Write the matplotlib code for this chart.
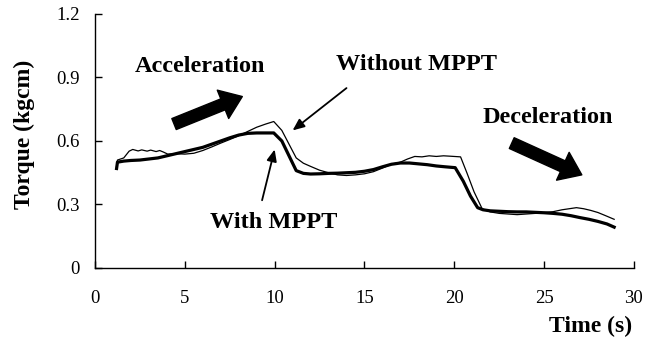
import matplotlib
matplotlib.use("Agg")
import matplotlib.pyplot as plt

# torque traces, read at the sample times below
t_with = [1.2, 1.25, 1.6, 2.0, 2.5, 3.0, 3.5, 4.0, 4.5, 5.0, 5.5, 6.0, 6.5,
          7.0, 7.5, 8.0, 8.5, 9.0, 9.5, 9.95, 10.4, 10.8, 11.2, 11.6, 12.0,
          12.5, 13.0, 13.5, 14.0, 14.5, 15.0, 15.5, 16.0, 16.5, 17.0, 17.5,
          18.0, 18.5, 19.0, 19.5, 20.05, 20.5, 20.9, 21.3, 21.6, 22.0, 22.5,
          23.0, 23.5, 24.0, 24.5, 25.0, 25.5, 26.0, 26.5, 27.0, 27.5, 28.0,
          28.5, 28.9]
torque_with = [0.47, 0.50, 0.505, 0.508, 0.51, 0.515, 0.52, 0.53, 0.54, 0.55,
               0.56, 0.57, 0.585, 0.60, 0.615, 0.628, 0.636, 0.638, 0.638,
               0.638, 0.60, 0.53, 0.46, 0.447, 0.444, 0.445, 0.447, 0.448,
               0.45, 0.452, 0.457, 0.465, 0.478, 0.49, 0.496, 0.496, 0.492,
               0.488, 0.482, 0.478, 0.474, 0.41, 0.34, 0.285, 0.275, 0.27,
               0.268, 0.266, 0.265, 0.265, 0.263, 0.261, 0.258, 0.254, 0.247,
               0.238, 0.23, 0.22, 0.208, 0.193]

t_without = [1.2, 1.25, 1.6, 1.9, 2.1, 2.4, 2.6, 2.9, 3.1, 3.4, 3.6, 3.8,
             4.05, 4.5, 5.0, 5.5, 6.0, 6.5, 7.0, 7.5, 8.0, 8.5, 9.0, 9.5,
             9.95, 10.4, 10.8, 11.2, 11.6, 12.0, 12.5, 13.0, 13.5, 14.0, 14.5,
             15.0, 15.5, 16.0, 16.5, 17.0, 17.4, 17.8, 18.2, 18.6, 19.0, 19.4,
             19.8, 20.35, 20.7, 21.1, 21.55, 22.0, 22.5, 23.0, 23.5, 24.0,
             24.5, 25.0, 25.5, 26.0, 26.4, 26.8, 27.2, 27.6, 28.0, 28.4, 28.9]
torque_without = [0.48, 0.51, 0.52, 0.552, 0.56, 0.553, 0.558, 0.552, 0.557,
                  0.55, 0.555, 0.548, 0.538, 0.54, 0.538, 0.542, 0.555, 0.572,
                  0.59, 0.607, 0.625, 0.645, 0.665, 0.68, 0.692, 0.65, 0.585,
                  0.52, 0.495, 0.48, 0.462, 0.45, 0.44, 0.437, 0.44, 0.445,
                  0.455, 0.472, 0.49, 0.5, 0.515, 0.527, 0.525, 0.53, 0.527,
                  0.53, 0.528, 0.525, 0.45, 0.36, 0.28, 0.265, 0.258, 0.255,
                  0.252, 0.255, 0.258, 0.262, 0.266, 0.275, 0.28, 0.285, 0.28,
                  0.272, 0.262, 0.248, 0.23]

x_ticks = [0, 5, 10, 15, 20, 25, 30]
y_ticks = [0, 0.3, 0.6, 0.9, 1.2]
y_tick_labels = ["0", "0.3", "0.6", "0.9", "1.2"]

plt.rcParams['font.family'] = ['Liberation Serif', 'DejaVu Serif']

fig = plt.figure(figsize=(6.58, 3.42), dpi=100)
ax = fig.add_axes([0.1444, 0.2164, 0.819, 0.7427])

ax.plot(t_without, torque_without, color='black', lw=0.9)
ax.plot(t_with, torque_with, color='black', lw=2.3)

ax.set_xlim(0, 30)
ax.set_ylim(0, 1.2)
ax.set_xticks(x_ticks)
ax.set_yticks(y_ticks)
ax.set_yticklabels(y_tick_labels)
ax.tick_params(direction='in', length=5, width=1, labelsize=13.5)
ax.tick_params(axis='x', pad=16)
ax.tick_params(axis='y', pad=11)
for s in ['top', 'right']:
    ax.spines[s].set_visible(False)
for s in ['left', 'bottom']:
    ax.spines[s].set_linewidth(1)

ax.set_ylabel('Torque (kgcm)', fontsize=17, fontweight='bold')
ax.yaxis.set_label_coords(-0.111, 0.528)
ax.set_xlabel('Time (s)', fontsize=17, fontweight='bold', ha='right')
ax.xaxis.set_label_coords(0.996, -0.19)

bold = dict(fontsize=17.5, fontweight='bold')
ax.text(2.2, 0.95, 'Acceleration', va='center', **bold)
ax.text(13.4, 0.96, 'Without MPPT', va='center', **bold)
ax.text(6.4, 0.213, 'With MPPT', va='center', **bold)
ax.text(21.6, 0.71, 'Deceleration', va='center', **bold)

fat = dict(arrowstyle='simple,head_length=1.5,head_width=2.2,tail_width=0.85',
           color='black', mutation_scale=10, shrinkA=0, shrinkB=0)
ax.annotate('', xy=(8.2, 0.81), xytext=(4.4, 0.68), arrowprops=fat)
ax.annotate('', xy=(27.1, 0.44), xytext=(23.2, 0.59), arrowprops=fat)

thin = dict(arrowstyle='-|>,head_length=0.7,head_width=0.3', color='black',
            lw=1.3, shrinkA=0, shrinkB=0)
ax.annotate('', xy=(11.0, 0.65), xytext=(14.0, 0.85), arrowprops=thin)
ax.annotate('', xy=(10.0, 0.56), xytext=(9.3, 0.32), arrowprops=thin)

fig.savefig('out.png', dpi=100)
